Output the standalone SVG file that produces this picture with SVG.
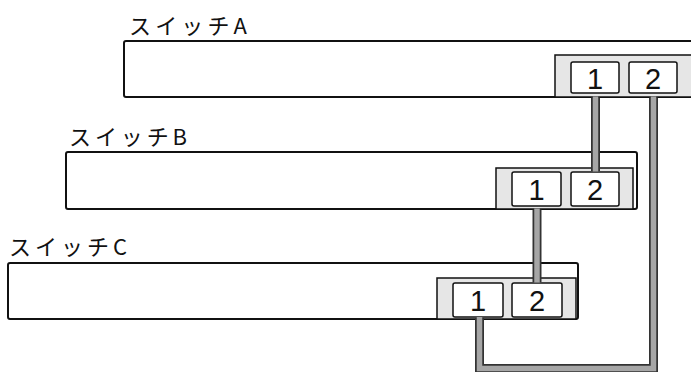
<svg xmlns="http://www.w3.org/2000/svg" width="691" height="372" viewBox="0 0 691 372">
<style>
.sw{fill:#fff;stroke:#111;stroke-width:2}
.panel{fill:#e6e6e6;stroke:#111;stroke-width:1.5}
.port{fill:#fff;stroke:#111;stroke-width:1.5}
.lbl{font-family:"Noto Sans CJK JP","Liberation Sans",sans-serif;font-size:22px;fill:#111}
.num{font-family:"Liberation Sans",Arial,sans-serif;font-size:29px;fill:#111;text-anchor:middle}
.co{fill:none;stroke:#333;stroke-width:9}
.ci{fill:none;stroke:#a6a6a6;stroke-width:5.5}
</style>
<g id="switchA">
<text class="lbl" x="129" y="34" textLength="118">スイッチA</text>
<rect class="sw" x="124" y="41" width="580" height="56" rx="2"/>
<rect class="panel" x="555" y="55" width="150" height="42"/>
<rect class="port" x="571" y="62" width="48" height="31" rx="2"/>
<text class="num" x="595" y="89">1</text>
<rect class="port" x="629" y="62" width="48" height="31" rx="2"/>
<text class="num" x="653" y="89">2</text>
</g>
<g id="switchB">
<text class="lbl" x="69" y="145" textLength="118">スイッチB</text>
<rect class="sw" x="66" y="152" width="571" height="57" rx="2"/>
<rect class="panel" x="496" y="168" width="137" height="41"/>
<rect class="port" x="512" y="172" width="49" height="34" rx="2"/>
<text class="num" x="536.5" y="200">1</text>
<rect class="port" x="571" y="172" width="48" height="34" rx="2"/>
<text class="num" x="595" y="200">2</text>
</g>
<g id="switchC">
<text class="lbl" x="9" y="255" textLength="118">スイッチC</text>
<rect class="sw" x="8" y="263" width="570" height="56" rx="2"/>
<rect class="panel" x="437" y="278" width="139" height="41"/>
<rect class="port" x="453" y="283" width="50" height="34" rx="2"/>
<text class="num" x="478" y="311">1</text>
<rect class="port" x="512" y="283" width="50" height="34" rx="2"/>
<text class="num" x="537" y="311">2</text>
</g>
<g id="connectors">
<path class="co" d="M595.5 97.5V171"/>
<path class="co" d="M537 209.5V282"/>
<path class="co" d="M479.5 318V368.5H653.5V97.5"/>
<path class="ci" d="M595.5 96.5V171.5"/>
<path class="ci" d="M537 208.5V282.5"/>
<path class="ci" d="M479.5 317V368.5H653.5V96.5"/>
</g>
</svg>
